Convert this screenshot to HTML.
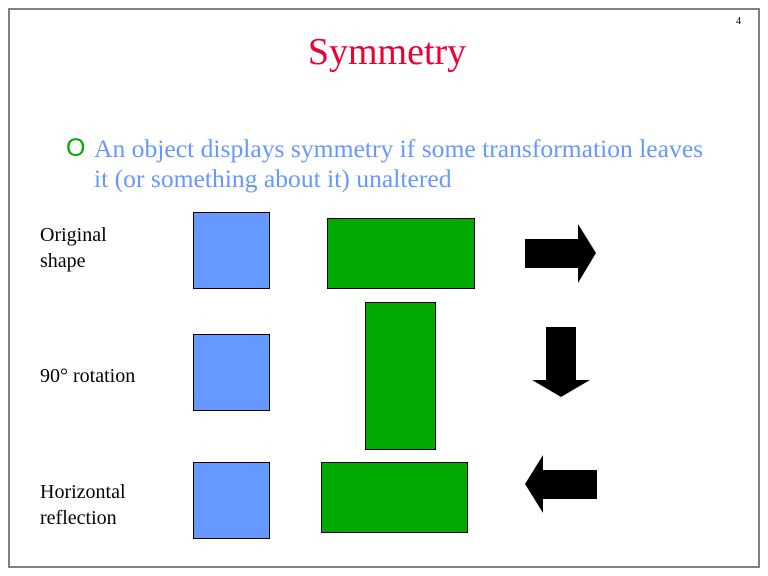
<!DOCTYPE html>
<html><head><style>
body{margin:0;width:768px;height:576px;background:#fff;position:relative;font-family:"Liberation Serif",serif;overflow:hidden}
.a{position:absolute}
.b{position:absolute;background:#6699ff;border:1px solid #000;box-sizing:border-box}
.g{position:absolute;background:#00aa00;border:1px solid #000;box-sizing:border-box}
.l{position:absolute;font-size:20px;line-height:26px;color:#000}
</style></head><body>
<div class="a" style="left:8px;top:8px;width:752px;height:560px;border:2px solid #808080;box-sizing:border-box"></div>
<div class="a" style="left:736px;top:16px;font-size:10px">4</div>
<div class="a" style="left:0;width:774px;top:30px;text-align:center;font-size:38px;color:#ee0033">Symmetry</div>
<div class="a" style="left:66px;top:134px;font-size:25px;color:#00aa00;font-family:'Liberation Sans',sans-serif">O</div>
<div class="a" style="left:94px;top:134px;font-size:25.6px;line-height:30px;color:#6699ff;width:670px;white-space:nowrap">An object displays symmetry if some transformation leaves<br>it (or something about it) unaltered</div>
<div class="l" style="left:40px;top:222px">Original<br>shape</div>
<div class="l" style="left:40px;top:363px">90° rotation</div>
<div class="l" style="left:40px;top:479px">Horizontal<br>reflection</div>
<div class="b" style="left:193px;top:212px;width:77px;height:77px"></div>
<div class="b" style="left:193px;top:334px;width:77px;height:77px"></div>
<div class="b" style="left:193px;top:462px;width:77px;height:77px"></div>
<div class="g" style="left:327px;top:218px;width:148px;height:71px"></div>
<div class="g" style="left:365px;top:302px;width:71px;height:148px"></div>
<div class="g" style="left:321px;top:462px;width:147px;height:71px"></div>
<svg class="a" style="left:0;top:0" width="768" height="576">
<polygon points="525,239 578,239 578,224 596,253 578,283 578,268 525,268" fill="#000"/>
<polygon points="546,327 576,327 576,380 590,380 561,397 532,380 546,380" fill="#000"/>
<polygon points="597,470 543,470 543,455 525,484 543,513 543,499 597,499" fill="#000"/>
</svg>
</body></html>
